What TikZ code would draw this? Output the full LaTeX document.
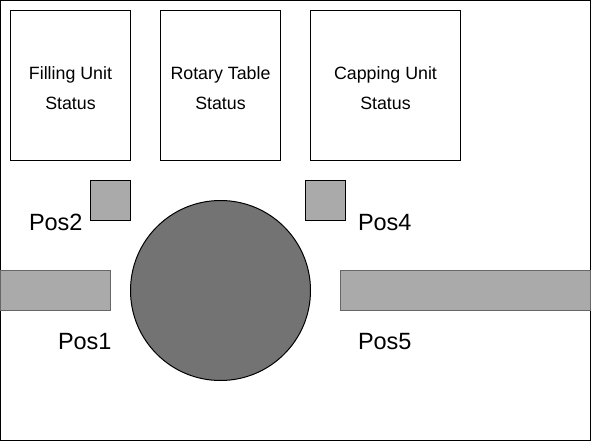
\documentclass[tikz,border=0pt]{standalone}
\usepackage{fontspec}
\setmainfont{Liberation Sans}
\begin{document}
\begin{tikzpicture}[x=1pt,y=-1pt,line cap=rect]
\useasboundingbox (0,0) rectangle (591,441);
\definecolor{custcol_0_0_0}{RGB}{0, 0, 0}
\definecolor{custcol_66_66_66}{RGB}{102, 102, 102}
\definecolor{custcol_73_73_73}{RGB}{115, 115, 115}
\definecolor{custcol_aa_aa_aa}{RGB}{170, 170, 170}
\tikzset{
  statusbox/.style={line width=1.0pt, draw=custcol_0_0_0, fill=white},
  statustext/.style={inner sep=0, outer sep=0, custcol_0_0_0, anchor=base, align=center,
    font=\fontsize{17.8pt}{30pt}\selectfont},
  postext/.style={inner sep=0, outer sep=0, custcol_0_0_0, anchor=base west,
    font=\fontsize{23.5pt}{23.5pt}\selectfont},
  conveyor/.style={line width=1.0pt, draw=custcol_66_66_66, fill=custcol_aa_aa_aa},
  sensor/.style={line width=1.0pt, draw=custcol_0_0_0, fill=custcol_aa_aa_aa}
}
% frame
\draw [line width=1.0pt, custcol_0_0_0] (0.5,0.5) rectangle (590.5,440.5);
% status boxes
\draw [statusbox] (10.5,10.5) rectangle (130.5,160.5);
\draw [statusbox] (160.5,10.5) rectangle (280.5,160.5);
\draw [statusbox] (310.5,10.5) rectangle (460.5,160.5);
\node[statustext] (fillingtxt) at (70.5,110.0) {Filling Unit\\Status};
\node[statustext] (rotarytxt) at (220.5,110.0) {Rotary Table\\Status};
\node[statustext] (cappingtxt) at (385.5,110.0) {Capping Unit\\Status};
% conveyors
\draw [conveyor] (0.5,270.5) rectangle (110.5,310.5);
\draw [conveyor] (340.5,270.5) rectangle (590.5,310.5);
% sensors
\draw [sensor] (90.5,180.5) rectangle (130.5,220.5);
\draw [sensor] (305.5,180.5) rectangle (345.5,220.5);
% rotary table
\draw [line width=1.0pt, custcol_0_0_0, fill=custcol_73_73_73] (220.5,290.5) circle (90.0);
% positions
\node[postext] (pos2) at (29.0,230.0) {Pos2};
\node[postext] (pos4) at (358.0,230.0) {Pos4};
\node[postext] (pos1) at (58.0,349.5) {Pos1};
\node[postext] (pos5) at (358.0,349.5) {Pos5};
\end{tikzpicture}
\end{document}
